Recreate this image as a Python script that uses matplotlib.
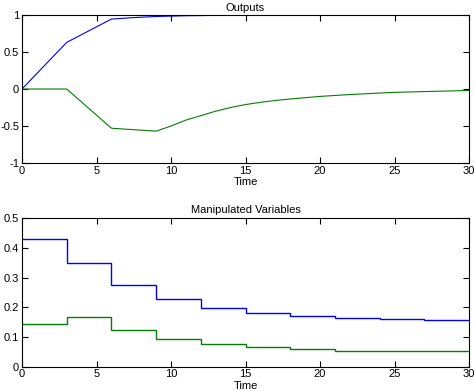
import matplotlib
matplotlib.use("Agg")
import matplotlib.pyplot as plt

plt.rcParams['font.family'] = ['Liberation Sans', 'DejaVu Sans']
plt.rcParams['font.size'] = 8

# outputs (sampled)
t_out = [0, 3, 6, 7.5, 9, 10, 11, 12, 13, 14, 15, 16, 17, 18, 20, 22, 25, 27, 30]
y1 = [0, 0.63, 0.945, 0.965, 0.98, 0.985, 0.99, 0.992, 0.995, 0.998, 1.0, 1.0, 1.0, 1.0, 1.0, 1.0, 1.0, 1.0, 1.0]
y2 = [0, 0, -0.53, -0.55, -0.57, -0.50, -0.42, -0.36, -0.30, -0.25, -0.21, -0.18, -0.155, -0.135, -0.10, -0.075, -0.045, -0.035, -0.02]

# manipulated variables (piecewise constant)
t_edges = [0, 3, 6, 9, 12, 15, 18, 21, 24, 27, 30]
u1 = [0.429, 0.35, 0.274, 0.227, 0.197, 0.18, 0.17, 0.164, 0.161, 0.156]
u2 = [0.143, 0.166, 0.124, 0.092, 0.075, 0.066, 0.06, 0.053, 0.053, 0.053]

fig = plt.figure(figsize=(4.74, 3.91), dpi=100)
W, H = 474, 391
ax1 = fig.add_axes([22 / W, 1 - 163 / H, (469 - 22) / W, (163 - 15) / H])
ax2 = fig.add_axes([22 / W, 1 - 366.7 / H, (469 - 22) / W, (366.7 - 218.3) / H])

ax1.plot(t_out, y1, color='#0000ff', lw=0.8)
ax1.plot(t_out, y2, color='#008000', lw=0.8)
ax1.set_xlim(0, 30)
ax1.set_ylim(-1, 1)
ax1.set_yticks([-1, -0.5, 0, 0.5, 1])
ax1.set_yticklabels(['-1', '-0.5', '0', '0.5', '1'])
ax1.set_title('Outputs', fontsize=8, pad=3)

ax2.stairs(u1, t_edges, color='#0000ff', lw=1.0, baseline=None)
ax2.stairs(u2, t_edges, color='#008000', lw=1.0, baseline=None)
ax2.set_xlim(0, 30)
ax2.set_ylim(0, 0.5)
ax2.set_yticks([0, 0.1, 0.2, 0.3, 0.4, 0.5])
ax2.set_yticklabels(['0', '0.1', '0.2', '0.3', '0.4', '0.5'])
ax2.set_title('Manipulated Variables', fontsize=8, pad=4)

for ax in (ax1, ax2):
    ax.set_xticks([0, 5, 10, 15, 20, 25, 30])
    ax.set_xlabel('Time', fontsize=8, labelpad=1)
    ax.tick_params(direction='in', top=True, right=True, length=4, width=0.8, pad=2, labelsize=8)
    for s in ax.spines.values():
        s.set_linewidth(0.8)

fig.savefig('out.png', dpi=100)
